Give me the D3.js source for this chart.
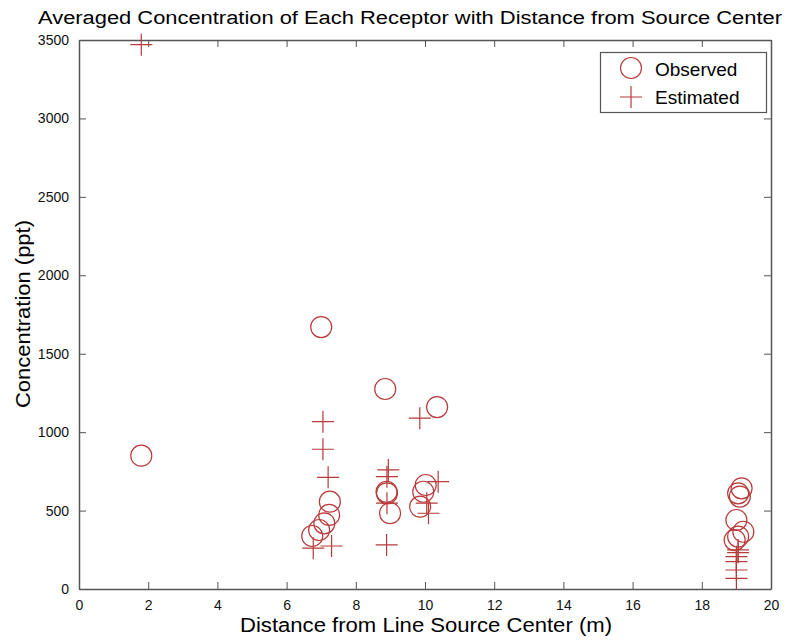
<!DOCTYPE html>
<html>
<head>
<meta charset="utf-8">
<script src="https://cdn.jsdelivr.net/npm/d3@7"></script>
<style>
    body { margin: 0; background: #fff; }
    svg { display: block; font-family: "Liberation Sans", Arial, sans-serif; }
</style>
</head>
<body>
<div id="svgcontainer"></div>
<script>
// observed receptors
const obsX = [1.8, 7.0, 8.85, 10.35, 7.25, 7.23, 7.09, 6.94, 6.74, 8.89, 8.9, 8.99, 10.02, 9.95, 9.86, 19.15, 19.05, 19.1, 19.0, 19.2, 19.05, 18.95]
const obsY = [850, 1670, 1275, 1160, 557, 472, 419, 376, 338, 620, 610, 483, 663, 620, 525, 642, 610, 589, 440, 365, 334, 312]

// estimated receptors
const estX = [1.8, 7.05, 7.05, 7.2, 6.77, 7.3, 9.85, 8.94, 8.9, 8.9, 8.89, 10.38, 10.05, 10.1, 19.05, 19.05, 19.0, 19.0, 19.0, 19.0]
const estY = [3470, 1067, 891, 712, 260, 274, 1089, 759, 716, 547, 281, 684, 547, 483, 249, 232, 206, 174, 121, 68]

const xTicks = [0, 2, 4, 6, 8, 10, 12, 14, 16, 18, 20]
const yTicks = [0, 500, 1000, 1500, 2000, 2500, 3000, 3500]

const WIDTH = 800
const HEIGHT = 640
const margin = { top: 40, right: 29, bottom: 51, left: 79 }
const MARK = "#b83a3a"
const AXIS = "#555"

const svg = d3.select("#svgcontainer")
    .append("svg")
    .attr("width", WIDTH)
    .attr("height", HEIGHT)

let x = d3.scaleLinear().domain([0, 20]).range([margin.left, WIDTH - margin.right])
let y = d3.scaleLinear().domain([0, 3500]).range([HEIGHT - margin.bottom, margin.top])

// axes, ticks pointing inward like matlab
let tickLen = 7
svg.append("g")
    .attr("transform", `translate(0 ${y(0)})`)
    .call(d3.axisBottom(x).tickValues(xTicks).tickSizeInner(-tickLen).tickSizeOuter(0).tickPadding(11).tickFormat(d3.format("d")))
svg.append("g")
    .attr("transform", `translate(0 ${y(3500)})`)
    .call(d3.axisTop(x).tickValues(xTicks).tickSizeInner(-tickLen).tickSizeOuter(0).tickFormat(""))
svg.append("g")
    .attr("transform", `translate(${x(0)} 0)`)
    .call(d3.axisLeft(y).tickValues(yTicks).tickSizeInner(-tickLen).tickSizeOuter(0).tickPadding(10).tickFormat(d3.format("d")))
svg.append("g")
    .attr("transform", `translate(${x(20)} 0)`)
    .call(d3.axisRight(y).tickValues(yTicks).tickSizeInner(-tickLen).tickSizeOuter(0).tickFormat(""))

svg.selectAll(".domain").attr("stroke", AXIS).attr("stroke-width", 1.5)
svg.selectAll(".tick line").attr("stroke", AXIS)
svg.selectAll(".tick text")
    .attr("fill", "#111")
    .attr("font-size", 14)
    .attr("font-family", "Liberation Sans, Arial, sans-serif")

// marks
let drawCross = (g, cx, cy, s) => {
    g.append("path")
        .attr("d", `M${cx - s},${cy}H${cx + s}M${cx},${cy - s}V${cy + s}`)
        .attr("stroke", MARK)
        .attr("stroke-width", 1.2)
        .attr("fill", "none")
}

svg.append("g")
    .selectAll("circle")
    .data(obsX.map((d, i) => ({ x: d, y: obsY[i] })))
    .join("circle")
        .attr("cx", d => x(d.x))
        .attr("cy", d => y(d.y))
        .attr("r", 10.5)
        .attr("fill", "none")
        .attr("stroke", MARK)
        .attr("stroke-width", 1.2)

let crosses = svg.append("g")
estX.forEach((d, i) => drawCross(crosses, x(d), y(estY[i]), 11))

// legend
let legend = svg.append("g")
legend.append("rect")
    .attr("x", 600.5).attr("y", 52.5)
    .attr("width", 166).attr("height", 60)
    .attr("fill", "#fff")
    .attr("stroke", AXIS)
    .attr("stroke-width", 1.2)
legend.append("circle")
    .attr("cx", 631).attr("cy", 68).attr("r", 10.5)
    .attr("fill", "none").attr("stroke", MARK).attr("stroke-width", 1.2)
drawCross(legend, 631, 97, 11)
legend.append("text").attr("x", 655).attr("y", 76).attr("font-size", 19).text("Observed")
legend.append("text").attr("x", 655).attr("y", 104).attr("font-size", 19).text("Estimated")

// titles
svg.append("text")
    .attr("x", 410).attr("y", 24)
    .attr("text-anchor", "middle")
    .attr("font-size", 18)
    .attr("textLength", 744)
    .attr("lengthAdjust", "spacingAndGlyphs")
    .text("Averaged Concentration of Each Receptor with Distance from Source Center")

svg.append("text")
    .attr("x", 426).attr("y", 632)
    .attr("text-anchor", "middle")
    .attr("font-size", 20)
    .attr("textLength", 372)
    .attr("lengthAdjust", "spacingAndGlyphs")
    .text("Distance from Line Source Center (m)")

svg.append("text")
    .attr("transform", "translate(30 314) rotate(-90)")
    .attr("text-anchor", "middle")
    .attr("font-size", 20)
    .attr("textLength", 188)
    .attr("lengthAdjust", "spacingAndGlyphs")
    .text("Concentration (ppt)")
</script>
</body>
</html>
